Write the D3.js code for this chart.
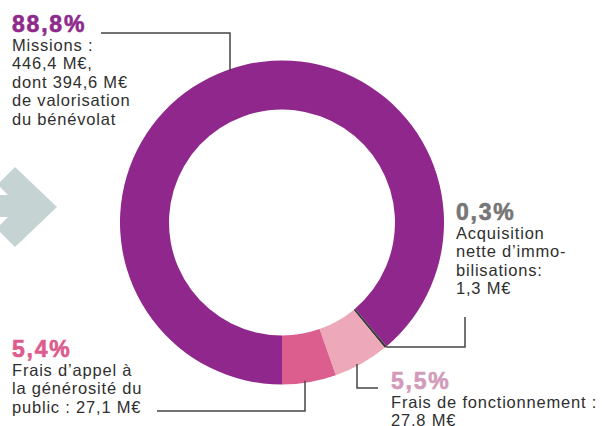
<!DOCTYPE html>
<meta charset="utf-8">
<style>
  body { margin: 0; background: #fff; }
  svg text { font-family: "Liberation Sans", Arial, Helvetica, sans-serif; }
</style>
<body>
<div id="my_dataviz"></div>
<script src="https://d3js.org/d3.v7.min.js"></script>
<script>
  // data (M€), in ring order starting at the bottom, clockwise
  var categories = ["Missions", "Acquisition nette d’immobilisations", "Frais de fonctionnement", "Frais d’appel à la générosité du public"];
  var amounts = [446.4, 1.3, 27.8, 27.1];
  var percents = ["88,8%", "0,3%", "5,5%", "5,4%"];
  var sliceColors = ["#8f278d", "#3b3b3b", "#eda9b9", "#dc5e8e"];
  var pctColors = ["#8e2a8c", "#767676", "#d39bbb", "#dd5b8d"];
  var labelLines = [
    ["Missions :", "446,4 M€,", "dont 394,6 M€", "de valorisation", "du bénévolat"],
    ["Acquisition", "nette d’immo-", "bilisations:", "1,3 M€"],
    ["Frais de fonctionnement :", "27,8 M€"],
    ["Frais d’appel à", "la générosité du", "public : 27,1 M€"]
  ];

  var width = 602, height = 426;
  var cx = 282, cy = 222.5, outerR = 162, innerR = 113;

  var svg = d3.select("#my_dataviz")
    .append("svg")
    .attr("width", width)
    .attr("height", height);

  // grey arrow on the left
  svg.append("polygon")
    .attr("points", "0,195 8,195 0,187 0,182 15,167 57,207 15,247 0,232 0,225 8,217 0,217")
    .attr("fill", "#c5d4d3");

  var pie = d3.pie().sort(null).value(function (d) { return d; })
    .startAngle(Math.PI).endAngle(3 * Math.PI);
  var arcs = pie(amounts);
  var arc = d3.arc().innerRadius(innerR).outerRadius(outerR);

  var g = svg.append("g").attr("transform", "translate(" + cx + "," + cy + ")");
  g.selectAll("path")
    .data(arcs)
    .enter()
    .append("path")
    .attr("d", arc)
    .attr("fill", function (d, i) { return sliceColors[i]; });

  // point on the outer edge for a given vertical x (top or bottom half)
  function ringY(x, sign) {
    var dx = x - cx;
    return cy + sign * Math.sqrt(outerR * outerR - dx * dx);
  }
  function edgePoint(a) {
    return [cx + outerR * Math.sin(a), cy - outerR * Math.cos(a)];
  }

  // leader lines
  var acqEnd = edgePoint(arcs[1].startAngle + (arcs[1].endAngle - arcs[1].startAngle) / 2);
  var leaders = [
    [[101, 33], [230, 33], [230, ringY(230, -1) + 2]],
    [acqEnd, [465, acqEnd[1]], [465, 317]],
    [[357, ringY(357, 1) - 2], [357, 388], [378, 388]],
    [[157, 411], [305, 411], [305, ringY(305, 1) - 2]]
  ];
  svg.selectAll(".leader")
    .data(leaders)
    .enter()
    .append("polyline")
    .attr("class", "leader")
    .attr("points", function (d) { return d.map(function (p) { return p.join(","); }).join(" "); })
    .attr("fill", "none")
    .attr("stroke", "#444")
    .attr("stroke-width", 1.5);

  // labels
  var labelPos = [
    { x: 12, y: 32 },
    { x: 456, y: 220 },
    { x: 391, y: 389 },
    { x: 12, y: 357 }
  ];
  var lineH = 18.6;

  labelPos.forEach(function (p, i) {
    svg.append("text")
      .attr("x", p.x)
      .attr("y", p.y)
      .attr("fill", pctColors[i])
      .attr("stroke", pctColors[i])
      .attr("stroke-width", 0.6)
      .style("font-size", "23px")
      .style("font-weight", "bold")
      .style("letter-spacing", "1.8px")
      .text(percents[i]);

    svg.append("text")
      .attr("fill", "#2f2f2f")
      .style("font-size", "16.5px")
      .style("letter-spacing", "0.8px")
      .selectAll("tspan")
      .data(labelLines[i])
      .enter()
      .append("tspan")
      .attr("x", p.x)
      .attr("y", function (d, j) { return p.y + 18.5 + j * lineH; })
      .text(function (d) { return d; });
  });
</script>
</body>
